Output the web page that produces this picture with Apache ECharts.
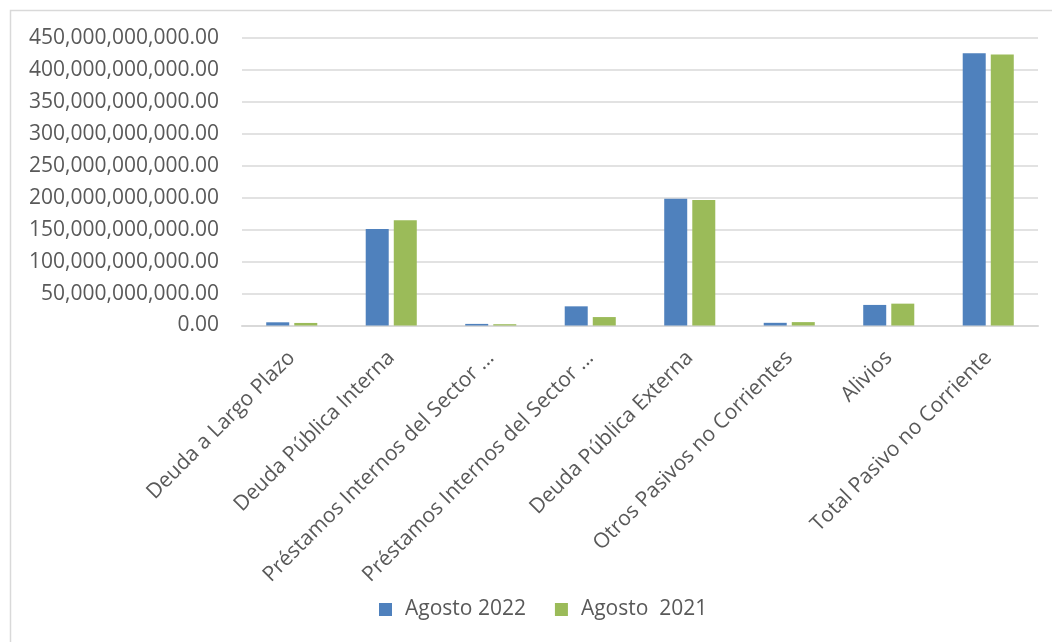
<!DOCTYPE html>
<html>
<head>
<meta charset="utf-8">
<script src="https://cdn.jsdelivr.net/npm/echarts@6/dist/echarts.min.js"></script>
<style>
html,body{margin:0;padding:0;background:#fff;}
#chart{width:1052px;height:642px;}
</style>
</head>
<body>
<div id="chart"></div>
<script>
const categories = [
  "Deuda a Largo Plazo",
  "Deuda Pública Interna",
  "Préstamos Internos del Sector ...",
  "Préstamos Internos del Sector ...",
  "Deuda Pública Externa",
  "Otros Pasivos no Corrientes",
  "Alivios",
  "Total Pasivo no Corriente"
];
const seriesNames = ["Agosto 2022", "Agosto  2021"];
const agosto2022 = [5.0e9, 151.0e9, 2.5e9, 30.0e9, 198.5e9, 4.2e9, 32.2e9, 426.0e9];
const agosto2021 = [4.0e9, 164.7e9, 2.0e9, 13.2e9, 196.5e9, 5.3e9, 34.2e9, 424.0e9];
const yMin = 0, yMax = 450e9, yStep = 50e9;

const font = "'Open Sans', sans-serif";
const textColor = '#595959';
const chart = echarts.init(document.getElementById('chart'));
function fmt(v){
  return Number(v).toLocaleString('en-US',{minimumFractionDigits:2,maximumFractionDigits:2});
}
chart.setOption({
  animation:false,
  backgroundColor:'#ffffff',
  graphic:[{type:'rect',left:8,top:8,shape:{width:1100,height:700},style:{fill:'none',stroke:'#d9d9d9',lineWidth:1.5},silent:true}],
  grid:{left:242,right:14,top:38,bottom:316.5,containLabel:false},
  legend:{
    data:seriesNames,
    top:594,
    left:374,
    itemWidth:13,itemHeight:13,itemGap:29,
    icon:'rect',
    textStyle:{fontFamily:font,fontSize:21,color:textColor,padding:[0,0,0,8]}
  },
  xAxis:{
    type:'category',
    data:categories,
    axisLine:{show:true,lineStyle:{color:'#d9d9d9',width:2}},
    axisTick:{show:false},
    axisLabel:{rotate:45,interval:0,margin:29,fontFamily:font,fontSize:21,color:textColor}
  },
  yAxis:{
    type:'value',
    min:yMin,max:yMax,interval:yStep,
    axisLine:{show:false},axisTick:{show:false},
    splitLine:{lineStyle:{color:'#d9d9d9',width:1.5}},
    axisLabel:{formatter:fmt,margin:23,fontFamily:font,fontSize:21,color:textColor}
  },
  series:[
    {name:seriesNames[0],type:'bar',data:agosto2022,barWidth:23,barGap:'22%',itemStyle:{color:'#4f81bd'}},
    {name:seriesNames[1],type:'bar',data:agosto2021,barWidth:23,barGap:'22%',itemStyle:{color:'#9bbb59'}}
  ]
});
</script>
</body>
</html>
